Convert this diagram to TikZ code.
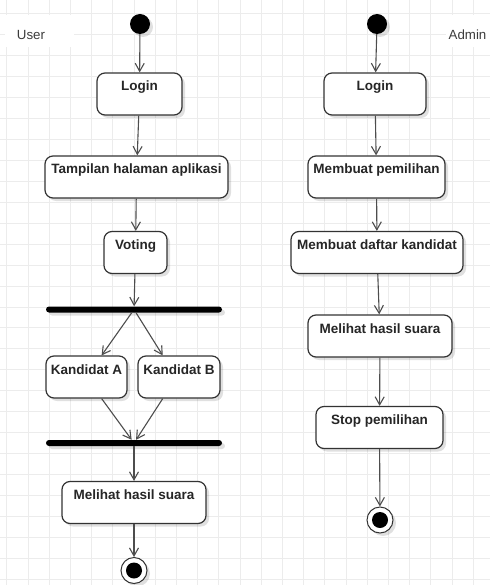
\documentclass[tikz,border=0pt]{standalone}
\usepackage{fontspec}
\setmainfont{Liberation Sans}
\usetikzlibrary{arrows.meta,shadows}
\definecolor{gridc}{HTML}{ECECEC}
\definecolor{linec}{HTML}{333333}
\definecolor{arrc}{HTML}{4D4D4D}
\definecolor{txtc}{HTML}{262626}
\definecolor{lblc}{HTML}{3C3C3C}
\begin{document}
\begin{tikzpicture}[x=1pt,y=-1pt,
  shad/.style={drop shadow={shadow xshift=3pt,shadow yshift=-3pt,opacity=0.12,fill=black}},
  act/.style={draw=linec, line width=1.2pt, rounded corners=8pt, fill=white, shad,
    inner xsep=2pt, inner ysep=0pt, text=txtc,
    font=\bfseries\fontsize{13.5}{16}\selectfont, text height=18pt, text depth=24pt},
  bar/.style={fill=black, rounded corners=3pt, minimum width=176pt, minimum height=6pt,
    inner sep=0pt, shad},
  startnode/.style={circle, fill=black, minimum size=20pt, inner sep=0pt, shad},
  endnode/.style={circle, draw=linec, line width=1pt, fill=white, minimum size=26pt,
    inner sep=0pt, shad},
  flow/.style={draw=arrc, line width=1.1pt, -{Straight Barb[length=8pt,width=9pt]}},
  lbl/.style={text=lblc, font=\fontsize{13.3}{16}\selectfont, inner sep=0pt}
]
\useasboundingbox (0,0) rectangle (490,585);
\fill[white] (0,0) rectangle (490,585);
% grid
\foreach \k in {0,...,23} \draw[gridc, line width=1pt] ({6.8+21.2*\k},0) -- ++(0,585);
\foreach \k in {0,...,27} \draw[gridc, line width=1pt] (0,{14+20.93*\k}) -- ++(490,0);
% lane labels
\fill[white] (5,15.5) rectangle (74,47.5);
\fill[white] (446,15.5) rectangle (490,47.5);
\node[lbl] (user) at (31,35) {User};
\node[lbl] (admin) at (467.5,35) {Admin};

% left column
\node[startnode] (s1) at (140,24) {};
\node[act, minimum width=85pt, minimum height=42pt] (L1) at (139.5,94) {Login};
\node[act, minimum width=183pt, minimum height=42pt] (L2) at (136.5,177) {Tampilan halaman aplikasi};
\node[act, minimum width=63pt, minimum height=41pt] (L3) at (135.5,252.5) {Voting};
\node[bar] (b1) at (134,309.5) {};
\node[act, minimum width=81pt, minimum height=42pt] (KA) at (86.5,377) {Kandidat A};
\node[act, minimum width=82pt, minimum height=42pt] (KB) at (179,377) {Kandidat B};
\node[bar] (b2) at (134,443) {};
\node[act, minimum width=144pt, minimum height=41pt] (L4) at (134,502.5) {Melihat hasil suara};
\node[endnode] (e1) at (134,570.5) {};
\fill[black] (e1) circle (8pt);

% right column
\node[startnode] (s2) at (377,24) {};
\node[act, minimum width=102pt, minimum height=42pt] (R1) at (375,94) {Login};
\node[act, minimum width=137pt, minimum height=42pt] (R2) at (376.5,177) {Membuat pemilihan};
\node[act, minimum width=172pt, minimum height=41pt] (R3) at (377,252.5) {Membuat daftar kandidat};
\node[act, minimum width=144pt, minimum height=42pt] (R4) at (380,336) {Melihat hasil suara};
\node[act, minimum width=127pt, minimum height=41pt] (R5) at (379.5,427.5) {Stop pemilihan};
\node[endnode] (e2) at (380,520) {};
\fill[black] (e2) circle (8pt);

% connectors left
\draw[flow] (s1) -- (L1);
\draw[flow] (L1) -- (L2);
\draw[flow] (L2) -- (L3);
\draw[flow] (L3) -- (b1);
\draw[flow] (b1) -- (KA.55);
\draw[flow] (b1) -- (KB.127);
\draw[flow] (KA.-55) -- (b2);
\draw[flow] (KB.-127) -- (b2);
\draw[flow] (b2) -- (L4);
\draw[flow] (L4) -- (e1);
% connectors right
\draw[flow] (s2) -- (R1);
\draw[flow] (R1) -- (R2);
\draw[flow] (R2) -- (R3);
\draw[flow] (R3) -- (R4);
\draw[flow] (R4) -- (R5);
\draw[flow] (R5) -- (e2);
\end{tikzpicture}
\end{document}
